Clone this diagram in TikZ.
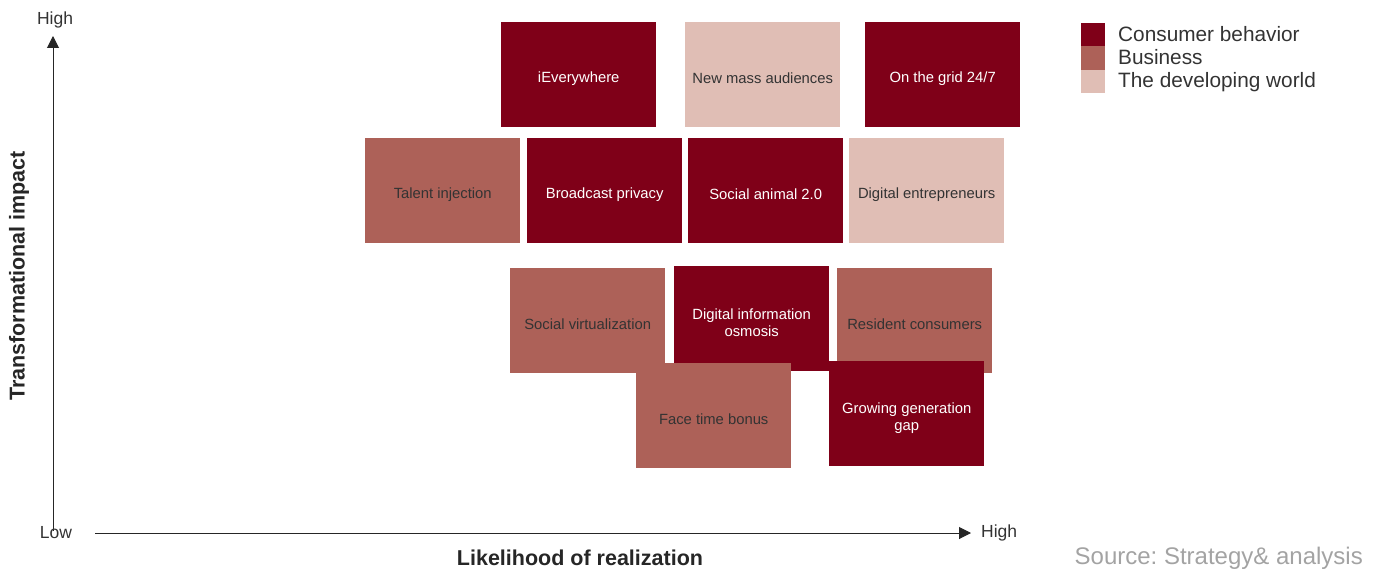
\documentclass[tikz,border=0pt]{standalone}
\usepackage{fontspec}
\setmainfont{Liberation Sans}
\frenchspacing
\usetikzlibrary{arrows.meta}
\definecolor{cons}{HTML}{7F0018}
\definecolor{busi}{HTML}{AD6158}
\definecolor{devw}{HTML}{E0BEB5}
\definecolor{txtd}{HTML}{333333}
\definecolor{srcg}{HTML}{A3A3A3}
\tikzset{
  card/.style={rectangle, anchor=north west, minimum width=155pt, minimum height=105pt,
    inner sep=0pt},
  cardc/.style={card, fill=cons},
  cardb/.style={card, fill=busi},
  cardd/.style={card, fill=devw},
  cardtext/.style={inner sep=0pt, align=center, font=\fontsize{14.8}{17}\selectfont},
  onc/.style={cardtext, text=white},
  onl/.style={cardtext, text=txtd},
  legsq/.style={rectangle, anchor=north west, minimum width=24pt, minimum height=23.3pt, inner sep=0pt},
  legtxt/.style={anchor=west, inner sep=0pt, text=txtd, font=\fontsize{20.8}{23}\selectfont},
  axlab/.style={inner sep=0pt, text=txtd, font=\fontsize{17.5}{19}\selectfont},
  axtitle/.style={inner sep=0pt, text=black!85, font=\bfseries\fontsize{21.5}{23}\selectfont},
  axis/.style={line width=1pt, black!85, -{Triangle[width=12pt,length=12pt]}}
}
\newcommand{\mycard}[5]{%
  \node[#1] (#2) at (#3) {};
  \node[#4] (#2-t) at ([yshift=-4pt]#2.center) {#5};}
\begin{document}
\begin{tikzpicture}[x=1pt,y=-1pt]
\useasboundingbox (0,0) rectangle (1378,572);
% row 1
\mycard{cardc}{ieve}{501,22}{onc}{iEverywhere}
\mycard{cardd}{nmas}{685,22}{onl}{New mass audiences}
\mycard{cardc}{grid}{865,22}{onc}{On the grid 24/7}
% row 2
\mycard{cardb}{tale}{365,138}{onl}{Talent injection}
\mycard{cardc}{broa}{527,138}{onc}{Broadcast privacy}
\mycard{cardc}{soca}{688,138}{onc}{Social animal 2.0}
\mycard{cardd}{dent}{849,138}{onl}{Digital entrepreneurs}
% row 3
\mycard{cardb}{socv}{510,268}{onl}{Social virtualization}
\mycard{cardc}{dinf}{674,266}{onc}{Digital information\\osmosis}
\mycard{cardb}{resi}{837,268}{onl}{Resident consumers}
% row 4
\mycard{cardb}{face}{636,363}{onl}{Face time bonus}
\mycard{cardc}{grow}{829,361}{onc}{Growing generation\\gap}
% axes
\coordinate (yb) at (53,531);
\coordinate (yt) at (53,36);
\coordinate (xl) at (95,533);
\coordinate (xr) at (971,533);
\draw[axis] (yb) -- (yt);
\draw[axis] (xl) -- (xr);
\node[axlab] (yhigh) at (55,20) {High};
\node[axlab] (xlow) at (56,533) {Low};
\node[axlab, anchor=west] (xhigh) at (981,533) {High};
\node[axtitle] (xtit) at (580,558) {Likelihood of realization};
\node[axtitle, rotate=90] (ytit) at (19,276) {Transformational impact};
% legend
\node[legsq, fill=cons] (l1) at (1081,23) {};
\node[legsq, fill=busi] (l2) at (1081,46.3) {};
\node[legsq, fill=devw] (l3) at (1081,69.6) {};
\node[legtxt] (t1) at (1118,34.5) {Consumer behavior};
\node[legtxt] (t2) at (1118,57.5) {Business};
\node[legtxt] (t3) at (1118,82) {The developing world};
% source
\node[inner sep=0pt, anchor=east, text=srcg, font=\fontsize{24}{26}\selectfont] (src) at (1363,558) {Source: Strategy\& analysis};
\end{tikzpicture}
\end{document}
